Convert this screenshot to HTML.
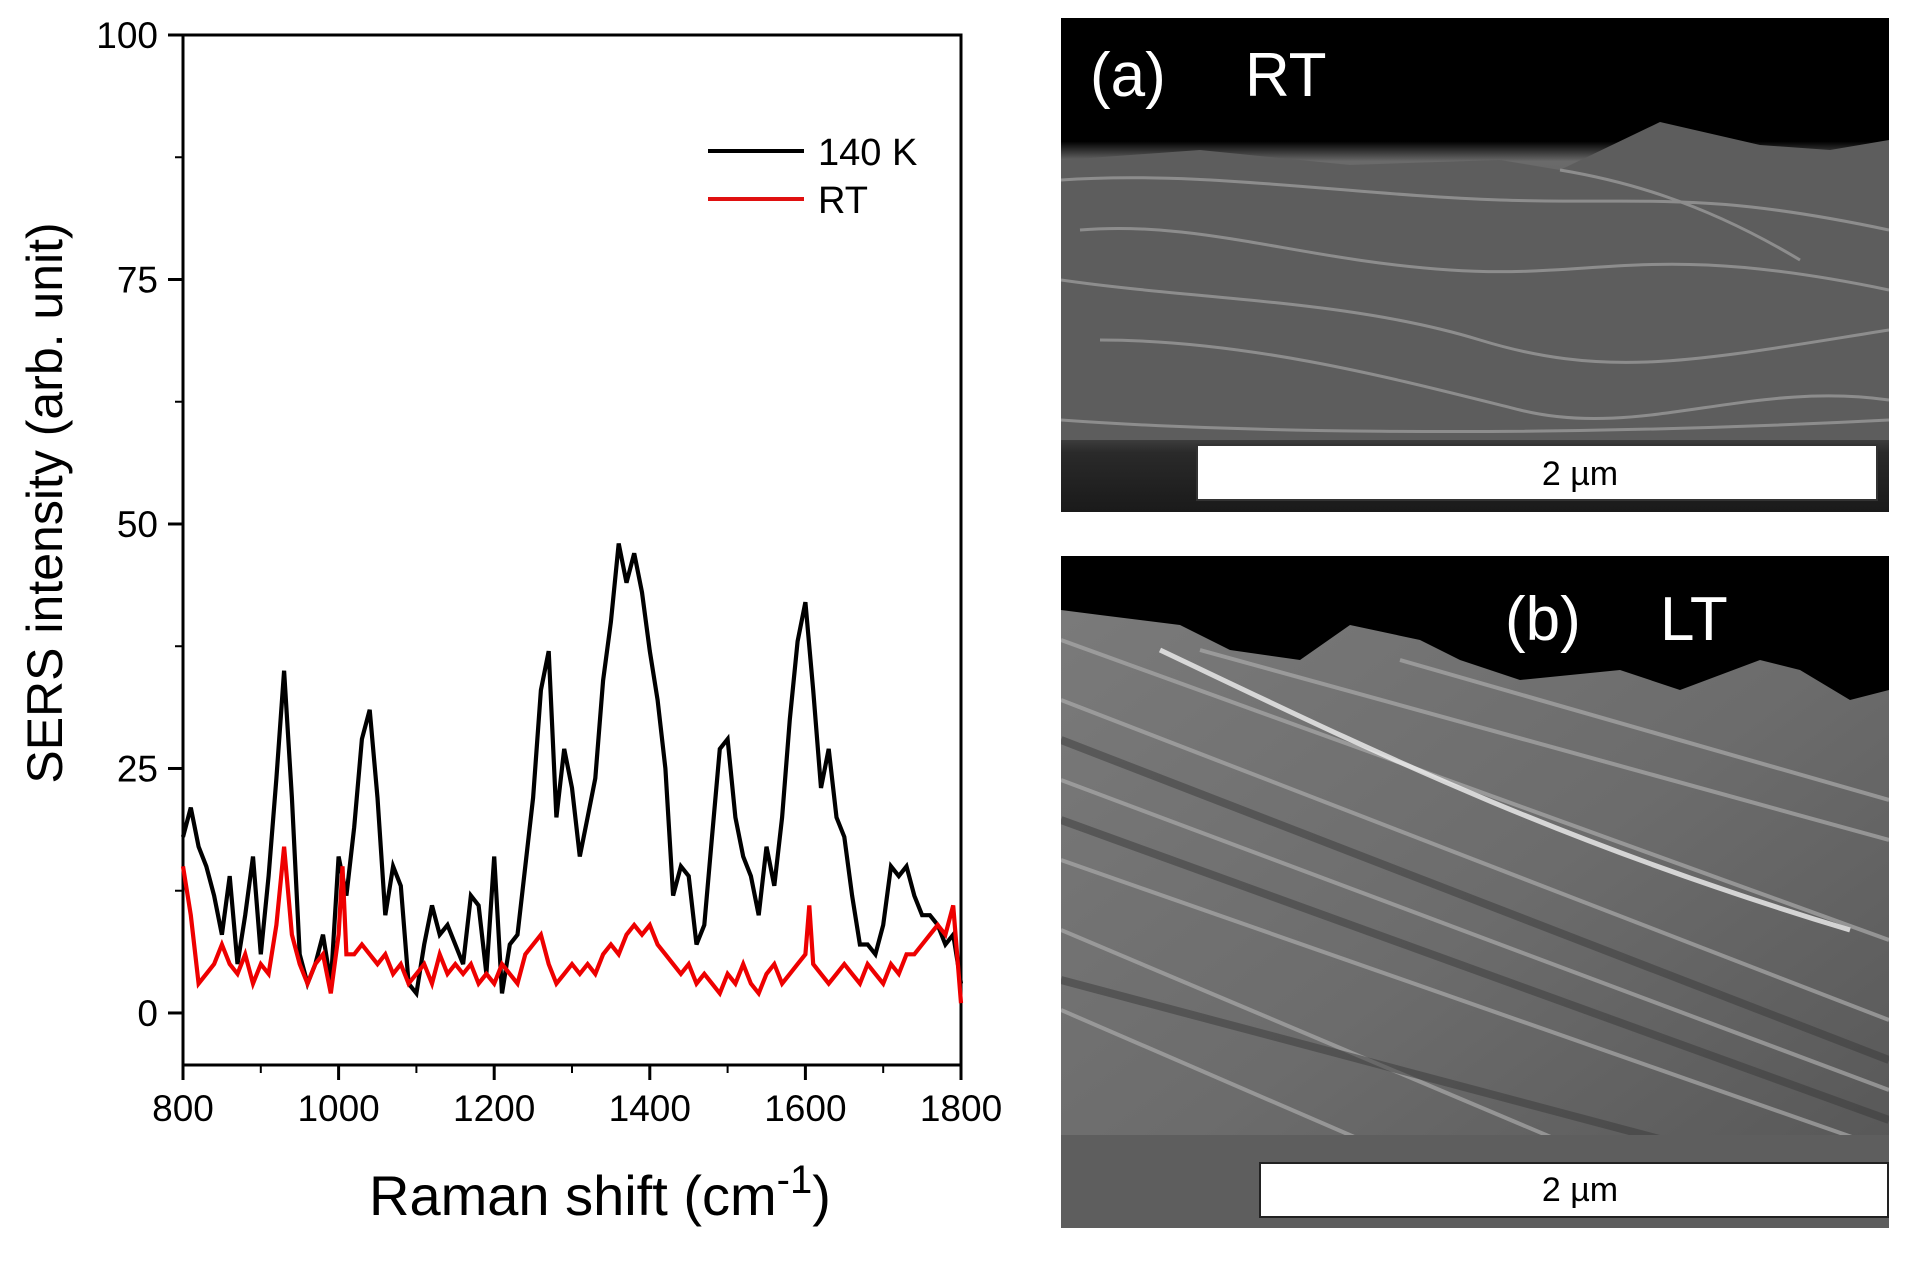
<!DOCTYPE html>
<html><head><meta charset="utf-8"><style>
html,body{margin:0;padding:0;background:#fff;}
svg text{font-family:"Liberation Sans",Arial,sans-serif;}
</style></head><body>
<svg width="1910" height="1259" viewBox="0 0 1910 1259" xmlns="http://www.w3.org/2000/svg">
<defs>
<linearGradient id="gA" x1="0" y1="0" x2="0" y2="1">
<stop offset="0" stop-color="#000"/><stop offset="0.25" stop-color="#000"/>
<stop offset="0.29" stop-color="#6a6a6a"/><stop offset="0.5" stop-color="#5c5c5c"/>
<stop offset="0.82" stop-color="#555"/><stop offset="0.88" stop-color="#2a2a2a"/>
<stop offset="1" stop-color="#1a1a1a"/></linearGradient>
<linearGradient id="gB" x1="0" y1="0" x2="1" y2="1">
<stop offset="0" stop-color="#7a7a7a"/><stop offset="0.5" stop-color="#6c6c6c"/><stop offset="1" stop-color="#555"/></linearGradient>
<clipPath id="cpB"><rect x="1061" y="556" width="828" height="672"/></clipPath>
<clipPath id="cpA"><rect x="1061" y="18" width="828" height="494"/></clipPath>
</defs>
<g id="chart"></g>

<!-- Panel a -->
<g clip-path="url(#cpA)">
<rect x="1061" y="18" width="828" height="494" fill="url(#gA)"/>
<path d="M1061 160 L1200 150 L1350 165 L1500 160 L1560 170 L1660 122 L1760 145 L1830 150 L1889 140 L1889 440 L1061 440 Z" fill="#5d5d5d"/>
<g stroke="#9a9a9a" stroke-width="3" fill="none" opacity="0.8">
<path d="M1061 180 C1200 170 1350 195 1500 200 S1700 190 1889 230"/>
<path d="M1080 230 C1200 220 1300 260 1450 270 S1650 240 1889 290"/>
<path d="M1061 280 C1200 300 1350 300 1480 340 S1700 360 1889 330"/>
<path d="M1100 340 C1250 340 1400 380 1520 410 S1750 380 1889 400"/>
<path d="M1560 170 C1620 180 1700 200 1800 260"/>
<path d="M1061 420 C1200 430 1500 440 1889 420"/>
</g>
</g>
<rect x="1197" y="445" width="680" height="55" fill="#fff" stroke="#333" stroke-width="2"/>
<text x="1580" y="485" font-size="34" text-anchor="middle" fill="#000">2 µm</text>
<text x="1090" y="96" font-size="62" fill="#fff">(a)</text>
<text x="1245" y="96" font-size="62" fill="#fff">RT</text>

<!-- Panel b -->
<g clip-path="url(#cpB)">
<rect x="1061" y="556" width="828" height="672" fill="#000"/>
<path d="M1061 610 L1100 615 L1180 625 L1230 650 L1300 660 L1350 625 L1420 640 L1460 660 L1520 680 L1620 670 L1680 690 L1760 660 L1800 670 L1850 700 L1889 690 L1889 1228 L1061 1228 Z" fill="url(#gB)"/>
<g stroke="#aaa" stroke-width="4" fill="none" opacity="0.7">
<path d="M1061 640 L1889 940"/><path d="M1061 700 L1889 1020"/>
<path d="M1061 780 L1889 1090"/><path d="M1061 860 L1889 1150"/>
<path d="M1061 930 L1700 1200"/><path d="M1061 1010 L1500 1200"/>
<path d="M1200 650 L1889 840"/><path d="M1400 660 L1889 800"/>
</g>
<g stroke="#f0f0f0" stroke-width="5" fill="none" opacity="0.8">
<path d="M1160 650 C1350 740 1550 840 1850 930"/>
</g>
<g stroke="#3a3a3a" stroke-width="8" fill="none" opacity="0.5">
<path d="M1061 740 L1889 1060"/><path d="M1061 820 L1889 1120"/><path d="M1061 980 L1889 1200"/>
</g>
<rect x="1061" y="1135" width="828" height="93" fill="#5e5e5e"/>
</g>
<rect x="1505" y="580" width="90" height="70" fill="#000"/>
<rect x="1260" y="1163" width="628" height="54" fill="#fff" stroke="#222" stroke-width="2"/>
<text x="1580" y="1201" font-size="34" text-anchor="middle" fill="#000">2 µm</text>
<text x="1505" y="640" font-size="62" fill="#fff">(b)</text>
<text x="1660" y="640" font-size="62" fill="#fff">LT</text>
</svg>
<script>
const ramanShift=[800,810,820,830,840,850,860,870,880,890,900,910,920,930,940,950,960,970,980,990,1000,1010,1020,1030,1040,1050,1060,1070,1080,1090,1100,1110,1120,1130,1140,1150,1160,1170,1180,1190,1200,1210,1220,1230,1240,1250,1260,1270,1280,1290,1300,1310,1320,1330,1340,1350,1360,1370,1380,1390,1400,1410,1420,1430,1440,1450,1460,1470,1480,1490,1500,1510,1520,1530,1540,1550,1560,1570,1580,1590,1600,1610,1620,1630,1640,1650,1660,1670,1680,1690,1700,1710,1720,1730,1740,1750,1760,1770,1780,1790,1800];
const series140K=[18,21,17,15,12,8,14,5,10,16,6,14,24,35,22,6,3,5,8,3,16,12,19,28,31,22,10,15,13,3,2,7,11,8,9,7,5,12,11,4,16,2,7,8,15,22,33,37,20,27,23,16,20,24,34,40,48,44,47,43,37,32,25,12,15,14,7,9,18,27,28,20,16,14,10,17,13,20,30,38,42,33,23,27,20,18,12,7,7,6,9,15,14,15,12,10,10,9,7,8,3];
const ramanShiftRT=[800,810,820,830,840,850,860,870,880,890,900,910,920,930,940,950,960,970,980,990,1000,1005,1010,1020,1030,1040,1050,1060,1070,1080,1090,1100,1110,1120,1130,1140,1150,1160,1170,1180,1190,1200,1210,1220,1230,1240,1250,1260,1270,1280,1290,1300,1310,1320,1330,1340,1350,1360,1370,1380,1390,1400,1410,1420,1430,1440,1450,1460,1470,1480,1490,1500,1510,1520,1530,1540,1550,1560,1570,1580,1590,1600,1605,1610,1620,1630,1640,1650,1660,1670,1680,1690,1700,1710,1720,1730,1740,1750,1760,1770,1780,1790,1800];
const seriesRT=[15,10,3,4,5,7,5,4,6,3,5,4,9,17,8,5,3,5,6,2,8,15,6,6,7,6,5,6,4,5,3,4,5,3,6,4,5,4,5,3,4,3,5,4,3,6,7,8,5,3,4,5,4,5,4,6,7,6,8,9,8,9,7,6,5,4,5,3,4,3,2,4,3,5,3,2,4,5,3,4,5,6,11,5,4,3,4,5,4,3,5,4,3,5,4,6,6,7,8,9,8,11,1];
const xTicks=[800,1000,1200,1400,1600,1800];
const yTicks=[0,25,50,75,100];
const legendLabels=["140 K","RT"];

const NS="http://www.w3.org/2000/svg";
const X0=183,X1=961,YT=35,YB=1065;
const xMin=800,xMax=1800,yMin=-5.32,yMax=100;
function sx(v){return X0+(v-xMin)/(xMax-xMin)*(X1-X0);}
function sy(v){return YB-(v-yMin)/(yMax-yMin)*(YB-YT);}
const g=document.getElementById('chart');
function mk(t,a,p){const e=document.createElementNS(NS,t);for(const k in a)e.setAttribute(k,a[k]);(p||g).appendChild(e);return e;}

const frame=mk('rect',{x:X0,y:YT,width:X1-X0,height:YB-YT,fill:'none',stroke:'#000','stroke-width':3});



xTicks.forEach(v=>{
  const t=mk('line',{x1:sx(v),x2:sx(v),y1:YB,y2:YB+15,stroke:'#000','stroke-width':3});
  
  
  const l=mk('text',{x:sx(v),y:1121,'font-size':37,'text-anchor':'middle',fill:'#000'});
  l.textContent=v;
  
  
});
for(let v=900;v<1800;v+=200){
  const t=mk('line',{x1:sx(v),x2:sx(v),y1:YB,y2:YB+8,stroke:'#000','stroke-width':2});
  
  
}
yTicks.forEach(v=>{
  const t=mk('line',{x1:X0-15,x2:X0,y1:sy(v),y2:sy(v),stroke:'#000','stroke-width':3});
  
  
  const l=mk('text',{x:158,y:sy(v)+13,'font-size':37,'text-anchor':'end',fill:'#000'});
  l.textContent=v;
  
  
});
for(let v=12.5;v<100;v+=25){
  const t=mk('line',{x1:X0-8,x2:X0,y1:sy(v),y2:sy(v),stroke:'#000','stroke-width':2});
  
  
}

function line(xs,ys,color,name){
  const d=xs.map((x,i)=>(i?'L':'M')+sx(x).toFixed(1)+' '+sy(ys[i]).toFixed(1)).join(' ');
  const p=mk('path',{d:d,fill:'none',stroke:color,'stroke-width':4.2,'stroke-linejoin':'miter'});
  
  
}
line(ramanShift,series140K,'#000','series-140k');
line(ramanShiftRT,seriesRT,'#ee0000','series-rt');

const lg=[['#000',151,165],['#e01010',199,213]];
lg.forEach((c,i)=>{
  const l=mk('line',{x1:708,x2:804,y1:c[1],y2:c[1],stroke:c[0],'stroke-width':4});
  
  
  const t=mk('text',{x:818,y:c[2],'font-size':38,fill:'#000'});
  t.textContent=legendLabels[i];
  
  
});

const xt=mk('text',{x:369,y:1215,'font-size':56,fill:'#000'});
xt.innerHTML='Raman shift (cm<tspan dy="-22" font-size="40">-1</tspan><tspan dy="22">)</tspan>';


const yt=mk('text',{x:0,y:0,'font-size':50,'text-anchor':'middle',fill:'#000',transform:'translate(62,503) rotate(-90)'});
yt.textContent='SERS intensity (arb. unit)';


</script>
</body></html>
